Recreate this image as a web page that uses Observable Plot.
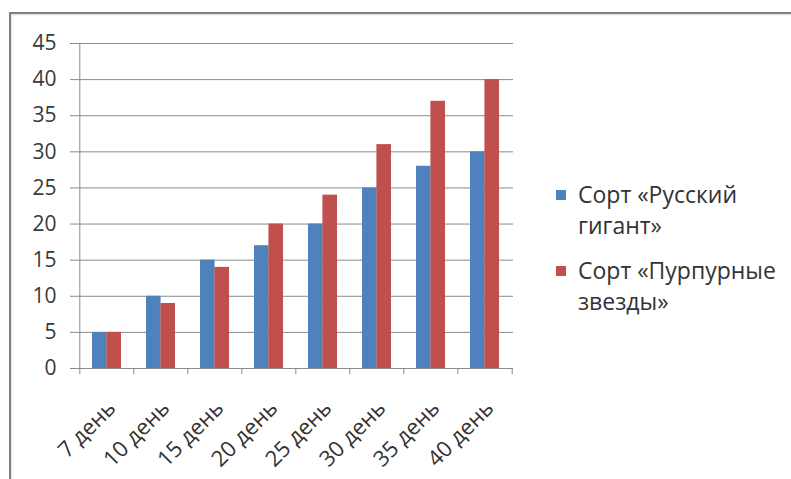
<!DOCTYPE html>
<html>
<head>
<meta charset="utf-8">
<script src="https://cdn.jsdelivr.net/npm/d3@7"></script>
<script src="https://cdn.jsdelivr.net/npm/@observablehq/plot@0.6"></script>
<style>
  body { margin: 0; background: #fff; }
  #wrap { position: relative; width: 791px; height: 479px; overflow: hidden; font-family: "Open Sans", sans-serif; }
  #border { position: absolute; left: 9px; top: 12px; width: 800px; height: 480px; border-top: 2px solid #808080; border-left: 2px solid #808080; box-shadow: inset 1px 1px 2px #ddd; }
  #legend { position: absolute; left: 556px; top: 179px; width: 232px; color: #333; font-size: 23px; line-height: 31px; }
  .item { display: flex; align-items: flex-start; margin-bottom: 14px; }
  .sw { width: 10px; height: 10px; margin-top: 11px; margin-right: 12px; flex: none; }
  svg { position: absolute; left: 0; top: 0; }
</style>
</head>
<body>
<div id="wrap">
  <div id="border"></div>
  <div id="chart"></div>
  <div id="legend"></div>
</div>
<script>
const days = ["7 день", "10 день", "15 день", "20 день", "25 день", "30 день", "35 день", "40 день"];
const seriesNames = ["Сорт «Русский гигант»", "Сорт «Пурпурные звезды»"];
const giant = [5, 10, 15, 17, 20, 25, 28, 30];
const purple = [5, 9, 14, 20, 24, 31, 37, 40];
const yTicks = [0, 5, 10, 15, 20, 25, 30, 35, 40, 45];
const colors = ["#4F81BD", "#C0504D"];

const W = 791, H = 479, mL = 78, mR = 278, mT = 43, mB = 111;
const pIn = 0.47, pOut = pIn / 2;
const step = (W - mL - mR) / days.length;
const bw = step * (1 - pIn);
const grid = "#8a8a8a";

const rowsA = days.map((d, i) => ({day: d, value: giant[i]}));
const rowsB = days.map((d, i) => ({day: d, value: purple[i]}));

const chart = Plot.plot({
  width: W, height: H,
  marginLeft: mL, marginRight: mR, marginTop: mT, marginBottom: mB,
  style: {fontFamily: "Open Sans, sans-serif", color: "#333", background: "transparent"},
  x: {domain: days, paddingInner: pIn, paddingOuter: pOut, axis: null},
  y: {domain: [0, 45], axis: null},
  marks: [
    Plot.ruleY(yTicks, {stroke: grid, strokeWidth: 1, insetLeft: -8}),
    Plot.ruleX([days[0]], {dx: -step / 2, stroke: grid}),
    Plot.barY(rowsA, {x: "day", y: "value", fill: colors[0], insetRight: bw / 2}),
    Plot.barY(rowsB, {x: "day", y: "value", fill: colors[1], insetLeft: bw / 2}),
    Plot.ruleY([0], {stroke: grid}),
    Plot.axisX({ticks: days, tickSize: 6, dx: -step / 2, tickFormat: () => "", stroke: grid, label: null}),
    Plot.axisX({ticks: [days[days.length - 1]], tickSize: 6, dx: step / 2, tickFormat: () => "", stroke: grid, label: null}),
    Plot.axisX({ticks: days, tickSize: 0, tickPadding: 36, dx: 5, tickRotate: -45, fontSize: 22, fill: "#333", label: null}),
    Plot.axisY({ticks: yTicks, tickSize: 0, tickPadding: 22, fontSize: 21, fill: "#3a3a3a", label: null})
  ]
});
document.getElementById("chart").appendChild(chart);

const legend = document.getElementById("legend");
seriesNames.forEach((name, i) => {
  const item = document.createElement("div");
  item.className = "item";
  const sw = document.createElement("div");
  sw.className = "sw";
  sw.style.background = colors[i];
  const t = document.createElement("div");
  t.textContent = name;
  item.appendChild(sw);
  item.appendChild(t);
  legend.appendChild(item);
});
</script>
</body>
</html>
